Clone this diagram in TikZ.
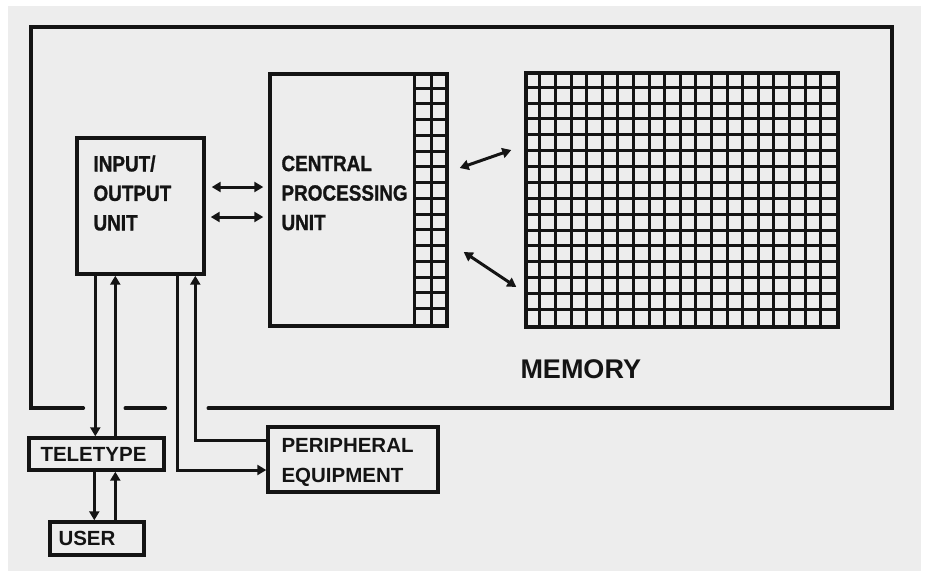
\documentclass[tikz,border=0pt]{standalone}
\usepackage{fontspec}
\usetikzlibrary{arrows.meta, positioning, calc}
\newfontfamily\letterfont{Liberation Sans Bold}
\newfontfamily\tallletters{Liberation Sans Bold}[FakeStretch=0.86, FakeBold=1.2]
\definecolor{paper}{HTML}{EDEDED}
\definecolor{ink}{HTML}{141414}

\begin{document}
\begin{tikzpicture}[
  x=1pt, y=-1pt,
  >={Triangle[length=9pt, width=10pt]},
  % boxes of the machine, drawn as plain outlined rectangles
  unit/.style   = {draw=ink, line width=3.4pt, inner sep=0pt},
  cell/.style   = {draw=ink, line width=3pt},
  link/.style   = {draw=ink, line width=3pt},
  frame/.style  = {draw=ink, line width=3.6pt, line cap=round},
  biglbl/.style = {font=\tallletters\fontsize{22}{29.5}\selectfont,
                   text=ink, align=left, inner sep=0pt},
  lbl/.style    = {font=\letterfont\fontsize{20.5}{30}\selectfont,
                   text=ink, align=left, inner sep=0pt},
]
% paper and page margins
\useasboundingbox (0,0) rectangle (928,571);
\fill[white] (0,0) rectangle (928,571);
\fill[paper] (8,6) rectangle (921,571);

% ============================ the computer ====================================
\node[minimum width=861pt, minimum height=381pt, inner sep=0pt] (computer) at (461.5,217.5) {};
\node[unit, minimum width=127pt, minimum height=136pt] (io)  at (140.5,206) {};
\node[unit, minimum width=177pt, minimum height=252pt] (cpu) at (358.5,200) {};
\node[unit, minimum width=312pt, minimum height=254pt] (mem) at (682,200) {};

\node[biglbl, anchor=west] (iotext)  at ($(io.west)+(18,-13)$) {INPUT/\\OUTPUT\\UNIT};
\node[biglbl, anchor=west] (cputext) at ($(cpu.west)+(13,-7)$) {CENTRAL\\PROCESSING\\UNIT};
\node[lbl, font=\letterfont\fontsize{27}{30}\selectfont, anchor=west]
     (memtext) at ($(mem.south west)+(-4,40)$) {MEMORY};

% registers along the right side of the CPU: 2 x 16 cells
\draw[cell] ($(cpu.north east)+(-34,0)$) -- ($(cpu.south east)+(-34,0)$);
\draw[cell] ($(cpu.north east)+(-17,0)$) -- ($(cpu.south east)+(-17,0)$);
\foreach \j in {1,...,15}
  \draw[cell] ($(cpu.north east)+(-34,\j*15.75)$) -- ($(cpu.north east)+(0,\j*15.75)$);

% memory: 20 x 16 cells
\foreach \i in {1,...,19}
  \draw[cell] ($(mem.north west)+(\i*15.6,0)$) -- ($(mem.south west)+(\i*15.6,0)$);
\foreach \j in {1,...,15}
  \draw[cell] ($(mem.north west)+(0,\j*15.875)$) -- ($(mem.north east)+(0,\j*15.875)$);

% ============================ outside the computer ============================
\node[unit, minimum width=135pt, minimum height=32pt] (tty)    at (96.5,454) {};
\node[unit, minimum width=94pt,  minimum height=33pt] (user)   at (97,538.5) {};
\node[unit, minimum width=170pt, minimum height=65pt] (periph) at (353,459.5) {};

\node[lbl, anchor=west] (ttytext)    at ($(tty.west)+(13,0)$) {TELETYPE};
\node[lbl, anchor=west] (usertext)   at ($(user.west)+(10,0)$) {USER};
\node[lbl, anchor=west] (periphtext) at ($(periph.west)+(15,3)$) {PERIPHERAL\\EQUIPMENT};

% ============================ connectors ======================================
\draw[link, <->] ($(io.east)+(6,-19)$) -- ($(cpu.west |- io.east)+(-5,-19)$);
\draw[link, <->] ($(io.east)+(5,11)$)  -- ($(cpu.west |- io.east)+(-5,11)$);
\draw[link, <->] ($(cpu.east)+(11,-32)$) -- ($(mem.west)+(-13,-50)$);
\draw[link, <->] ($(cpu.east)+(15,52)$)  -- ($(mem.west)+(-8,87)$);

\coordinate (ioa) at ($(io.south west)+(20,0)$);
\coordinate (iob) at ($(io.south west)+(40,0)$);
\coordinate (ioc) at ($(io.south west)+(102,0)$);
\coordinate (iod) at ($(io.south west)+(120,0)$);
\draw[link, ->] (ioa) -- (ioa |- tty.north);
\draw[link, ->] (iob |- tty.north) -- (iob);
\draw[link, ->] (ioc) |- ($(periph.west)+(0,10.5)$);
\draw[link, ->] ($(periph.west)+(0,-19.5)$) -| (iod);

\coordinate (ttya) at ($(tty.south west)+(67,0)$);
\coordinate (ttyb) at ($(tty.south west)+(88,0)$);
\draw[link, ->] (ttya) -- (ttya |- user.north);
\draw[link, ->] (ttyb |- user.north) -- (ttyb);

% outline of the computer, open where the lines leave it
\draw[frame] ($(ioa |- computer.south)+(-12,0)$) -- (computer.south west)
  -- (computer.north west) -- (computer.north east) -- (computer.south east)
  -- ($(iod |- computer.south)+(13,0)$);
\draw[frame] ($(iob |- computer.south)+(10,0)$) -- ($(ioc |- computer.south)+(-12,0)$);

\end{tikzpicture}
\end{document}
